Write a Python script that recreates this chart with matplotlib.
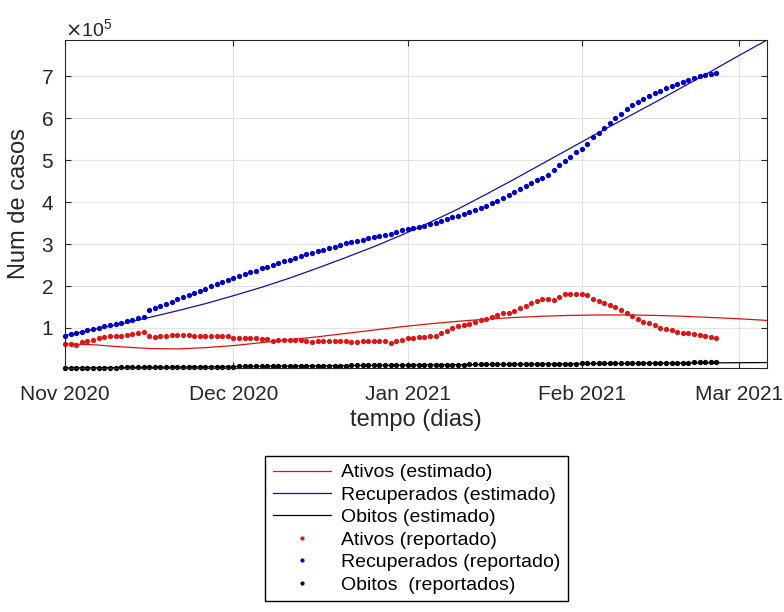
import numpy as np
import matplotlib
matplotlib.use("Agg")
import matplotlib.pyplot as plt
import matplotlib.dates as mdates
from matplotlib.ticker import ScalarFormatter, MultipleLocator

plt.rcParams['font.family'] = ['Liberation Sans', 'DejaVu Sans']

# start date of the series; reported data is daily, model output every 5 days
start = np.datetime64('2020-11-01')
dias_rep = np.arange(117)
dias_est = np.arange(0, 126, 5)

# reported values (x 1e5)
recuperados_rep = [
    0.82, 0.85, 0.88, 0.91, 0.94, 0.98, 1.01, 1.04, 1.07, 1.10,
    1.13, 1.16, 1.19, 1.23, 1.27, 1.43, 1.48, 1.53, 1.58, 1.63,
    1.69, 1.74, 1.79, 1.84, 1.89, 1.94, 1.99, 2.04, 2.10, 2.15,
    2.20, 2.24, 2.28, 2.33, 2.37, 2.42, 2.46, 2.50, 2.55, 2.59,
    2.63, 2.67, 2.71, 2.76, 2.80, 2.84, 2.87, 2.91, 2.94, 2.98,
    3.02, 3.05, 3.08, 3.11, 3.14, 3.16, 3.19, 3.21, 3.25, 3.29,
    3.33, 3.36, 3.38, 3.41, 3.44, 3.47, 3.51, 3.55, 3.59, 3.64,
    3.68, 3.72, 3.77, 3.81, 3.86, 3.92, 3.98, 4.04, 4.11, 4.18,
    4.25, 4.31, 4.38, 4.45, 4.52, 4.58, 4.66, 4.78, 4.90, 4.98,
    5.08, 5.19, 5.28, 5.40, 5.55, 5.65, 5.76, 5.88, 6.00, 6.10,
    6.22, 6.32, 6.40, 6.47, 6.54, 6.60, 6.66, 6.72, 6.77, 6.82,
    6.87, 6.91, 6.96, 7.00, 7.03, 7.06, 7.09,
]
ativos_rep = [
    0.61, 0.61, 0.60, 0.66, 0.69, 0.72, 0.75, 0.78, 0.80, 0.81,
    0.82, 0.84, 0.86, 0.87, 0.90, 0.81, 0.79, 0.80, 0.82, 0.83,
    0.83, 0.84, 0.84, 0.81, 0.81, 0.82, 0.81, 0.81, 0.81, 0.80,
    0.76, 0.76, 0.75, 0.75, 0.75, 0.74, 0.73, 0.69, 0.71, 0.71,
    0.71, 0.71, 0.72, 0.70, 0.67, 0.69, 0.69, 0.70, 0.70, 0.70,
    0.69, 0.67, 0.67, 0.68, 0.68, 0.69, 0.68, 0.68, 0.65, 0.69,
    0.72, 0.75, 0.77, 0.78, 0.79, 0.80, 0.82, 0.87, 0.93, 0.99,
    1.04, 1.07, 1.10, 1.14, 1.18, 1.22, 1.26, 1.30, 1.35, 1.36,
    1.41, 1.47, 1.53, 1.60, 1.65, 1.70, 1.70, 1.67, 1.75, 1.80,
    1.82, 1.81, 1.82, 1.79, 1.68, 1.64, 1.60, 1.55, 1.50, 1.44,
    1.36, 1.28, 1.22, 1.15, 1.11, 1.06, 1.01, 0.98, 0.94, 0.91,
    0.89, 0.87, 0.85, 0.83, 0.81, 0.79, 0.76,
]
# deaths in thousands
obitos_rep = [
    4.5, 4.6, 4.7, 4.9, 5.0, 5.1, 5.2, 5.3, 5.5, 5.6,
    5.7, 5.8, 5.9, 6.0, 6.2, 6.3, 6.4, 6.5, 6.6, 6.7,
    6.9, 7.0, 7.1, 7.2, 7.3, 7.4, 7.6, 7.7, 7.8, 7.9,
    8.0, 8.1, 8.3, 8.4, 8.5, 8.6, 8.7, 8.8, 9.0, 9.1,
    9.2, 9.3, 9.4, 9.5, 9.7, 9.8, 9.9, 10.0, 10.1, 10.2,
    10.4, 10.5, 10.6, 10.7, 10.8, 10.9, 11.1, 11.2, 11.3, 11.4,
    11.5, 11.6, 11.8, 11.9, 12.0, 12.1, 12.2, 12.4, 12.5, 12.6,
    12.7, 12.8, 13.0, 13.1, 13.2, 13.3, 13.4, 13.6, 13.7, 13.8,
    13.9, 14.0, 14.2, 14.3, 14.4, 14.5, 14.6, 14.8, 14.9, 15.0,
    15.1, 15.2, 15.4, 15.5, 15.6, 15.7, 15.8, 16.0, 16.1, 16.2,
    16.3, 16.4, 16.5, 16.7, 16.8, 16.9, 17.0, 17.1, 17.2, 17.4,
    17.5, 17.6, 17.7, 17.8, 17.9, 18.0, 18.1,
]

# model estimates (x 1e5, deaths in thousands)
recuperados_est = [0.82, 0.96, 1.10, 1.25, 1.41, 1.58, 1.77, 1.97, 2.19, 2.43,
                   2.68, 2.94, 3.22, 3.52, 3.84, 4.19, 4.55, 4.92, 5.29, 5.66,
                   6.02, 6.38, 6.75, 7.12, 7.50, 7.87]
ativos_est = [0.62, 0.60, 0.55, 0.51, 0.50, 0.53, 0.58, 0.65, 0.72, 0.79,
              0.87, 0.95, 1.03, 1.10, 1.16, 1.21, 1.25, 1.28, 1.30, 1.31,
              1.31, 1.30, 1.28, 1.25, 1.22, 1.18]
obitos_est = [4.5, 5.1, 5.7, 6.3, 6.9, 7.5, 8.1, 8.6, 9.2, 9.7,
              10.3, 10.8, 11.3, 11.9, 12.4, 12.9, 13.4, 13.9, 14.4, 14.9,
              15.4, 15.8, 16.3, 16.7, 17.1, 17.5]

t_rep = start + dias_rep.astype('timedelta64[D]')
t_est = start + dias_est.astype('timedelta64[D]')

rec_r = np.array(recuperados_rep) * 1e5
atv_r = np.array(ativos_rep) * 1e5
obi_r = np.array(obitos_rep) * 1e3
rec_e = np.array(recuperados_est) * 1e5
atv_e = np.array(ativos_est) * 1e5
obi_e = np.array(obitos_est) * 1e3

fig = plt.figure(figsize=(7.84, 6.12), dpi=100)
ax = fig.add_axes([0.0829, 0.3987, 0.8954, 0.5359])

ax.plot(t_est, atv_e, color='#e01010', lw=0.9, label='Ativos (estimado)')
ax.plot(t_est, rec_e, color='#1010b0', lw=0.9, label='Recuperados (estimado)')
ax.plot(t_est, obi_e, color='black', lw=0.9, label='Obitos (estimado)')
ms = 3.8
ax.plot(t_rep, atv_r, 'o', color='#e01515', ms=ms, mew=0, label='Ativos (reportado)', clip_on=False)
ax.plot(t_rep, rec_r, 'o', color='#0000c8', ms=ms, mew=0, label='Recuperados (reportado)', clip_on=False)
ax.plot(t_rep, obi_r, 'o', color='black', ms=ms, mew=0, label='Obitos  (reportados)', clip_on=False)

# axis tight, like matlab
ymin = min(obi_r.min(), obi_e.min())
ymax = max(rec_r.max(), rec_e.max())
ax.set_ylim(ymin, ymax)
ax.set_xlim(t_est[0], t_est[-1])

ax.xaxis.set_major_locator(mdates.MonthLocator())
ax.xaxis.set_major_formatter(mdates.DateFormatter('%b %Y'))
ax.yaxis.set_major_locator(MultipleLocator(1e5))
fmt = ScalarFormatter(useMathText=True)
fmt.set_powerlimits((0, 0))
ax.yaxis.set_major_formatter(fmt)
ax.yaxis.get_offset_text().set_fontsize(14)
ax.yaxis.get_offset_text().set_color('#262626')

ax.grid(True, color='#e3e3e3', lw=0.8)
ax.set_axisbelow(True)
for s in ax.spines.values():
    s.set_color('#262626')
    s.set_linewidth(0.8)
ax.tick_params(direction='in', top=True, right=True, length=4, width=0.8,
               color='#262626', labelcolor='#262626', labelsize=15)
ax.tick_params(axis='x', pad=12)
ax.tick_params(axis='y', pad=8)

ax.set_xlabel('tempo (dias)', fontsize=17, color='#262626', labelpad=4)
ax.set_ylabel('Num de casos', fontsize=17, color='#262626', labelpad=8)

fig.legend(loc='upper left', bbox_to_anchor=(0.338, 0.255), fontsize=14,
           frameon=True, fancybox=False, edgecolor='black', framealpha=1,
           handlelength=3.0, handletextpad=0.5, labelspacing=0.25,
           borderpad=0.4, borderaxespad=0, markerscale=0.8)

fig.savefig('out.png', dpi=100)
